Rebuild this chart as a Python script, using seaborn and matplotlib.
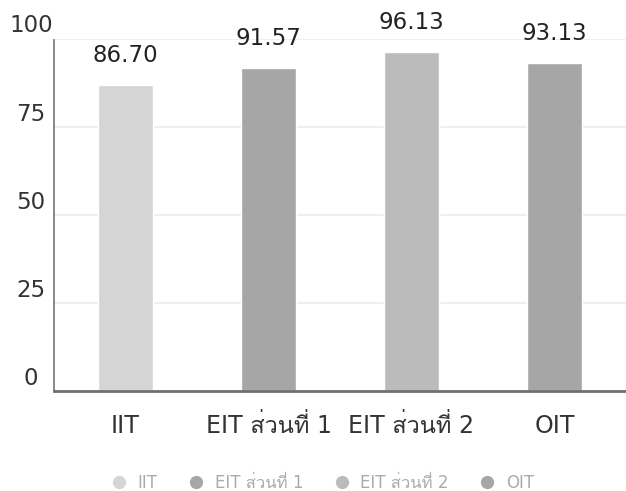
import matplotlib
matplotlib.use("Agg")
import matplotlib.pyplot as plt
from matplotlib import font_manager
from matplotlib.lines import Line2D
from matplotlib.transforms import ScaledTranslation
import seaborn as sns
import pandas as pd

categories = ["IIT", "EIT ส่วนที่ 1", "EIT ส่วนที่ 2", "OIT"]
values = [86.70, 91.57, 96.13, 93.13]
value_labels = ["86.70", "91.57", "96.13", "93.13"]
colors = ["#d5d5d5", "#a6a6a6", "#bbbbbb", "#a6a6a6"]
yticks = [0, 25, 50, 75, 100]

# find a font with Thai glyphs
thai_family = None
try:
    from fontTools.ttLib import TTFont
    for f in font_manager.fontManager.ttflist:
        try:
            tt = TTFont(f.fname, fontNumber=0, lazy=True)
            cmap = tt.getBestCmap()
            if cmap and 0x0E2A in cmap and 0x0E48 in cmap:
                thai_family = f.name
                break
        except Exception:
            pass
except Exception:
    pass

sns.set_style("white")
fams = ["DejaVu Sans"]
if thai_family:
    fams.append(thai_family)
plt.rcParams["font.family"] = fams

df = pd.DataFrame({"cat": categories, "val": values})

fig = plt.figure(figsize=(6.26, 4.91), dpi=100)
ax = fig.add_axes([54/626, 1-391/491, 1-54/626, (391-38.5)/491])
sns.barplot(data=df, x="cat", y="val", hue="cat", palette=colors,
            width=0.38, legend=False, ax=ax, saturation=1)

ax.set_ylim(0, 100)
ax.set_xlim(-0.5, 3.5)
ax.set_yticks(yticks)
ax.set_yticklabels([str(t) for t in yticks])
ax.set_xlabel("")
ax.set_ylabel("")
ax.yaxis.grid(True, color="#ececec", linewidth=1.2)
ax.xaxis.grid(False)
ax.set_axisbelow(True)
ax.tick_params(axis="y", length=0, pad=16.5, labelsize=16.5, labelcolor="#333333")
ax.tick_params(axis="x", length=0, pad=30, labelsize=17, labelcolor="#333333")
for lab in ax.get_yticklabels():
    lab.set_ha("center")
    lab.set_va("baseline")
    lab.set_transform(lab.get_transform() + ScaledTranslation(0, 6/100, fig.dpi_scale_trans))
for lab in ax.get_xticklabels():
    lab.set_va("baseline")

for s in ["top", "right"]:
    ax.spines[s].set_visible(False)
ax.spines["left"].set_color("#808080")
ax.spines["left"].set_linewidth(1.3)
ax.spines["left"].set_bounds(0, 99.5)
ax.spines["bottom"].set_color("#707070")
ax.spines["bottom"].set_linewidth(2)

for i, (v, t) in enumerate(zip(values, value_labels)):
    ax.annotate(t, (i, v), xytext=(0, 23), textcoords="offset pixels",
                ha="center", va="baseline", fontsize=16.5, color="#222222",
                annotation_clip=False)

handles = [Line2D([], [], marker="o", linestyle="", markersize=8.5,
                  markerfacecolor=c, markeredgecolor=c) for c in colors]
fig.legend(handles, categories, loc="center", bbox_to_anchor=(0.515, 1-483/491),
           ncol=4, frameon=False, fontsize=12, labelcolor="#aaaaaa",
           handlelength=1.0, handletextpad=0.62, columnspacing=1.8)

fig.savefig("out.png", dpi=100)
